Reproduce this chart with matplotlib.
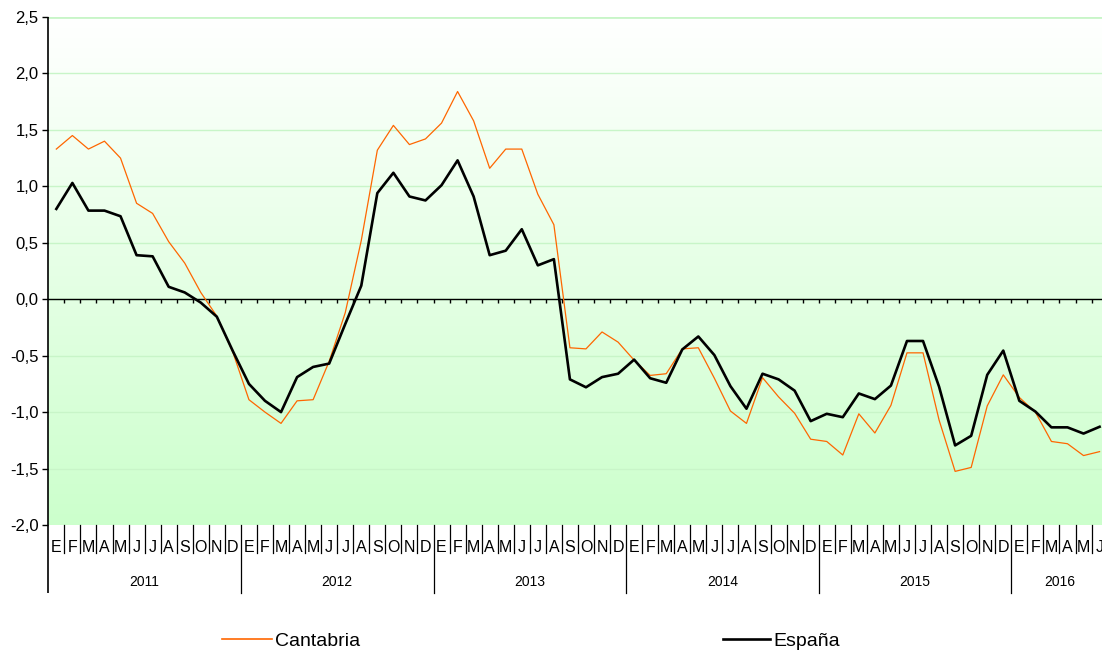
import numpy as np
import matplotlib
matplotlib.use("Agg")
import matplotlib.pyplot as plt
import matplotlib.transforms as mtransforms
from matplotlib import font_manager
from matplotlib.colors import LinearSegmentedColormap
from matplotlib.lines import Line2D

# ---------------- data ----------------
years = ["2011", "2012", "2013", "2014", "2015", "2016"]
month_letters = ["E", "F", "M", "A", "M", "J", "J", "A", "S", "O", "N", "D"]

cantabria = [
    1.33, 1.45, 1.33, 1.40, 1.25, 0.85, 0.76, 0.51, 0.32, 0.06, -0.15, -0.47,
    -0.89, -1.00, -1.10, -0.90, -0.89, -0.55, -0.12, 0.52, 1.32, 1.54, 1.37, 1.42,
    1.56, 1.84, 1.58, 1.16, 1.33, 1.33, 0.93, 0.66, -0.43, -0.44, -0.29, -0.38,
    -0.54, -0.675, -0.66, -0.44, -0.43, -0.70, -0.99, -1.10, -0.695, -0.865, -1.01, -1.24,
    -1.26, -1.38, -1.015, -1.185, -0.94, -0.475, -0.475, -1.07, -1.525, -1.49, -0.945, -0.67,
    -0.87, -1.00, -1.26, -1.28, -1.385, -1.35,
]
espana = [
    0.80, 1.03, 0.785, 0.785, 0.735, 0.39, 0.38, 0.11, 0.06, -0.03, -0.155, -0.46,
    -0.75, -0.90, -1.00, -0.69, -0.60, -0.57, -0.22, 0.12, 0.94, 1.12, 0.91, 0.875,
    1.01, 1.23, 0.91, 0.39, 0.43, 0.62, 0.30, 0.355, -0.71, -0.78, -0.69, -0.66,
    -0.535, -0.70, -0.74, -0.445, -0.33, -0.495, -0.77, -0.97, -0.66, -0.71, -0.81, -1.08,
    -1.015, -1.045, -0.835, -0.885, -0.765, -0.37, -0.37, -0.775, -1.295, -1.21, -0.67, -0.455,
    -0.90, -0.995, -1.135, -1.135, -1.19, -1.13,
]
series_names = ["Cantabria", "España"]
y_ticks = [-2.0, -1.5, -1.0, -0.5, 0.0, 0.5, 1.0, 1.5, 2.0, 2.5]
y_tick_labels = [f"{v:.1f}".replace(".", ",") for v in y_ticks]

# ---------------- style ----------------
plt.rcParams["font.family"] = ["Liberation Sans", "DejaVu Sans"]
names = {f.name for f in font_manager.fontManager.ttflist}
legend_family = "Liberation Sans Narrow" if "Liberation Sans Narrow" in names else "Liberation Sans"
legend_size = 16 if legend_family == "Liberation Sans Narrow" else 14

ORANGE = "#ff6600"
W, H = 1102, 651
fig = plt.figure(figsize=(W / 100, H / 100), dpi=100)
ax_left_px, ax_top_px, ax_bot_px = 48.3, 17, 525
month_px = 16.05
ax = fig.add_axes([ax_left_px / W, (H - ax_bot_px) / H,
                   1 - ax_left_px / W, (ax_bot_px - ax_top_px) / H])

n = len(espana)
x = np.arange(n)
xl = (-0.5, -0.5 + (W - ax_left_px) / month_px)
ax.set_xlim(*xl)
ax.set_ylim(y_ticks[0], y_ticks[-1])

# background gradient
cmap = LinearSegmentedColormap.from_list("bg", ["#ccffcc", "#ffffff"])
grad = np.linspace(0, 1, 256).reshape(-1, 1)
ax.imshow(grad, extent=(xl[0], xl[1], y_ticks[0], y_ticks[-1]), origin="lower",
          aspect="auto", cmap=cmap, zorder=0, interpolation="bilinear")

# gridlines
for v in y_ticks[1:]:
    ax.axhline(v, color="#c8f5c8", lw=2.0 if v == y_ticks[-1] else 1.0, zorder=1)

# zero line with ticks
ax.axhline(0, color="black", lw=1.0, zorder=2)
px_per_unit = (ax_bot_px - ax_top_px) / (y_ticks[-1] - y_ticks[0])
ax.vlines(x[:-1] + 0.5, -4 / px_per_unit, 0, color="black", lw=1.0, zorder=2)

# series
ax.plot(x, cantabria, color=ORANGE, lw=0.9, zorder=3)
ax.plot(x, espana, color="black", lw=1.9, zorder=4)

# axes styling
for s in ax.spines.values():
    s.set_visible(False)
ax.set_xticks([])
ax.set_yticks(y_ticks, labels=y_tick_labels)
ax.tick_params(axis="y", length=4, width=1, color="black", pad=3, labelsize=12)

# bottom category axis
trans = mtransforms.blended_transform_factory(ax.transData, ax.transAxes)
ax_h = ax_bot_px - ax_top_px
fy = lambda px: -(px - ax_bot_px) / ax_h

for i in range(n):
    ax.text(i, fy(547), month_letters[i % 12], transform=trans, ha="center",
            va="center", fontsize=11.5, clip_on=False)
for k in range(1, n):
    y_end = fy(593) if k % 12 == 0 else fy(553)
    ax.plot([k - 0.5, k - 0.5], [0, y_end], transform=trans, color="black",
            lw=0.9, clip_on=False)
ax.plot([-0.5, -0.5], [1, fy(593)], transform=trans, color="black", lw=1.2,
        clip_on=False, solid_capstyle="butt")
for j, yr in enumerate(years):
    start = 12 * j
    end = min(12 * j + 12, n)
    ax.text((start + end - 1) / 2, fy(582), yr, transform=trans, ha="center",
            va="center", fontsize=10, clip_on=False)

# legends
fs_px = legend_size * 100 / 72
h1 = Line2D([], [], color=ORANGE, lw=1.2)
h2 = Line2D([], [], color="black", lw=1.9)
for h, name, xpx, ln in [(h1, series_names[0], 222, 50), (h2, series_names[1], 723, 47)]:
    fig.legend(handles=[h], labels=[name], loc="center left",
               bbox_to_anchor=(xpx / W, 1 - 641 / H), frameon=False,
               borderpad=0, borderaxespad=0, handlelength=ln / fs_px,
               handletextpad=3 / fs_px,
               prop={"family": legend_family, "size": legend_size})

fig.savefig("out.png", dpi=100)
